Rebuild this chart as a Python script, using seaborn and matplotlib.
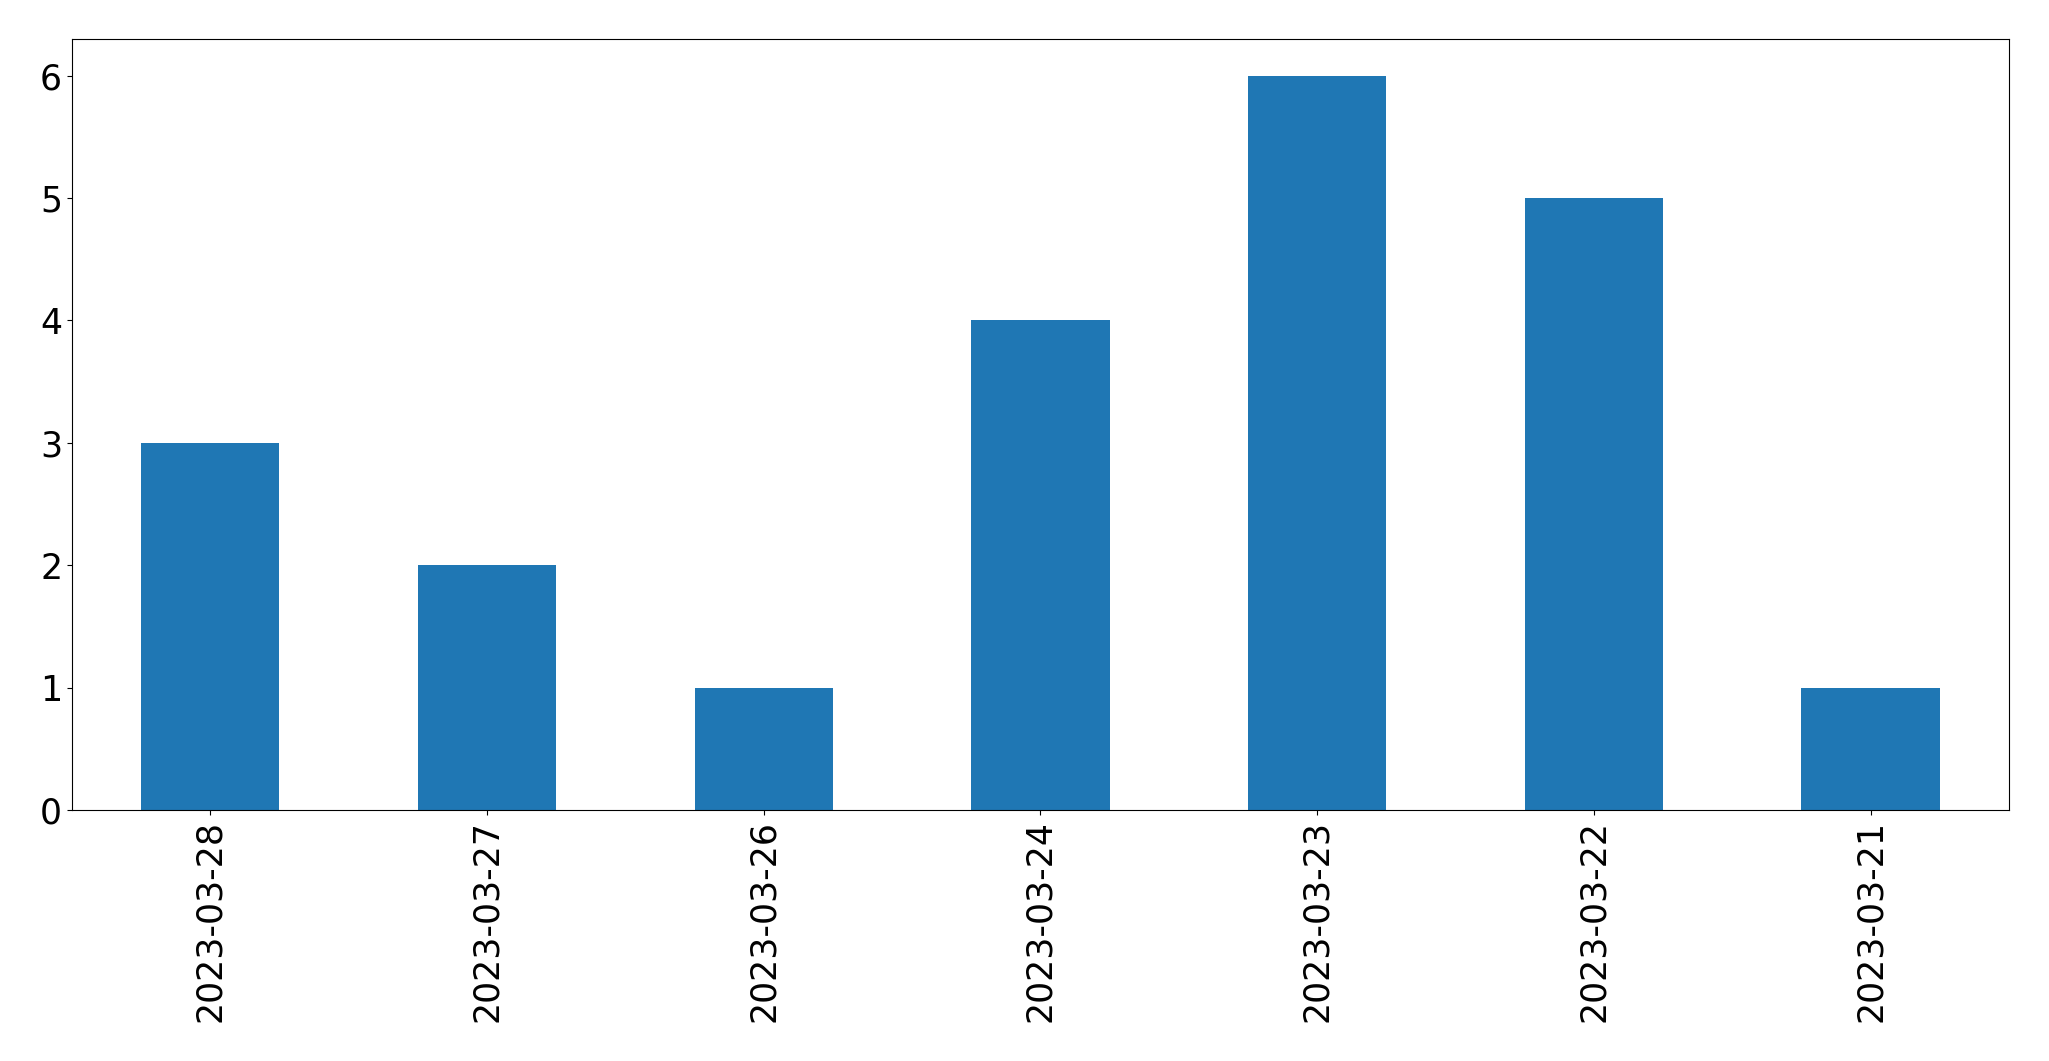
import pandas as pd
import seaborn as sns
import matplotlib
matplotlib.use("Agg")
import matplotlib.pyplot as plt

# Daily counts, in the order shown on the chart
dates = ['2023-03-28', '2023-03-27', '2023-03-26', '2023-03-24',
         '2023-03-23', '2023-03-22', '2023-03-21']
counts = [3, 2, 1, 4, 6, 5, 1]

df = pd.DataFrame({'date': dates, 'count': counts})

fig = plt.figure(figsize=(20.49, 10.61), dpi=100)
ax = fig.add_axes([0.0351, 0.2366, 0.9454, 0.7266])

sns.barplot(data=df, x='date', y='count', order=dates, color='#1f77b4',
            saturation=1, width=0.5, ax=ax)

ax.set_xlabel('')
ax.set_ylabel('')
ax.tick_params(axis='both', labelsize=25)
ax.tick_params(axis='x', labelrotation=90)
ax.set_xlim(-0.5, len(dates) - 0.5)

fig.savefig('out.png', dpi=100)
